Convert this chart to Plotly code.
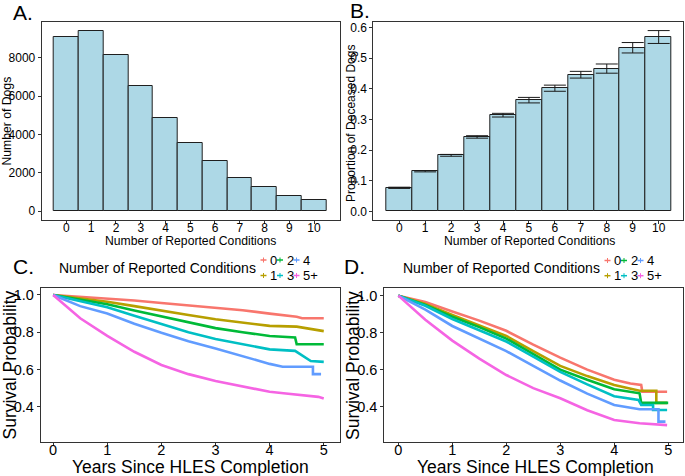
import plotly.graph_objects as go

W, H = 685, 476
FONT = "Liberation Sans, Arial, Helvetica, sans-serif"

# ---------------- Data ----------------
conditions = [0, 1, 2, 3, 4, 5, 6, 7, 8, 9, 10]
dog_counts = [9110, 9430, 8140, 6560, 4840, 3580, 2600, 1700, 1230, 810, 570]

prop_deceased = [0.077, 0.131, 0.183, 0.243, 0.314, 0.363, 0.402, 0.446, 0.466, 0.534, 0.569]
ci_upper = [0.079, 0.133, 0.186, 0.247, 0.320, 0.372, 0.412, 0.457, 0.481, 0.551, 0.590]
ci_lower = [0.075, 0.129, 0.180, 0.239, 0.308, 0.354, 0.392, 0.435, 0.451, 0.517, 0.548]

group_names = ["0", "1", "2", "3", "4", "5+"]
group_colors = ["#F8766D", "#B79F00", "#00BA38", "#00BFC4", "#619CFF", "#F564E3"]

# Panel C: survival by number of reported conditions
c_time = {
    "0":  [0, 0.5, 1, 1.5, 2, 2.5, 3, 3.5, 4, 4.5, 4.6, 5.0],
    "1":  [0, 0.5, 1, 1.5, 2, 2.5, 3, 3.5, 4, 4.5, 4.7, 5.0],
    "2":  [0, 0.5, 1, 1.5, 2, 2.5, 3, 3.5, 4, 4.47, 4.5, 5.0],
    "3":  [0, 0.5, 1, 1.5, 2, 2.5, 3, 3.5, 4, 4.47, 4.6, 4.76, 5.0],
    "4":  [0, 0.5, 1, 1.5, 2, 2.5, 3, 3.5, 4, 4.24, 4.8, 4.8, 4.95],
    "5+": [0, 0.25, 0.5, 1, 1.5, 2, 2.5, 3, 3.5, 4, 4.3, 4.6, 4.9, 5.0],
}
c_surv = {
    "0":  [1.0, 0.991, 0.982, 0.970, 0.957, 0.945, 0.933, 0.918, 0.900, 0.883, 0.875, 0.875],
    "1":  [1.0, 0.983, 0.964, 0.940, 0.915, 0.892, 0.870, 0.852, 0.834, 0.830, 0.820, 0.806],
    "2":  [1.0, 0.975, 0.950, 0.917, 0.884, 0.852, 0.822, 0.800, 0.780, 0.772, 0.735, 0.735],
    "3":  [1.0, 0.966, 0.934, 0.888, 0.844, 0.800, 0.764, 0.735, 0.708, 0.700, 0.677, 0.645, 0.641],
    "4":  [1.0, 0.940, 0.900, 0.846, 0.797, 0.752, 0.713, 0.670, 0.630, 0.615, 0.615, 0.575, 0.575],
    "5+": [1.0, 0.937, 0.875, 0.780, 0.695, 0.624, 0.575, 0.538, 0.507, 0.480, 0.471, 0.462, 0.453, 0.444],
}

# Panel D
d_time = {
    "0":  [0, 0.5, 1, 1.5, 2, 2.5, 3, 3.5, 4, 4.3, 4.5, 4.52, 4.98],
    "1":  [0, 0.5, 1, 1.5, 2, 2.5, 3, 3.5, 4, 4.47, 4.78, 4.78, 4.98],
    "2":  [0, 0.5, 1, 1.5, 2, 2.5, 3, 3.5, 4, 4.47, 4.5, 5.0],
    "3":  [0, 0.5, 1, 1.5, 2, 2.5, 3, 3.5, 4, 4.45, 4.5, 4.72, 4.72, 4.98],
    "4":  [0, 0.5, 1, 1.5, 2, 2.5, 3, 3.5, 4, 4.47, 4.82, 4.82, 4.95],
    "5+": [0, 0.5, 1, 1.5, 2, 2.5, 3, 3.5, 4, 4.47, 4.98],
}
d_surv = {
    "0":  [1.0, 0.965, 0.914, 0.865, 0.810, 0.735, 0.665, 0.600, 0.545, 0.525, 0.517, 0.481, 0.480],
    "1":  [1.0, 0.955, 0.895, 0.840, 0.782, 0.700, 0.620, 0.565, 0.517, 0.486, 0.486, 0.420, 0.420],
    "2":  [1.0, 0.950, 0.886, 0.830, 0.768, 0.685, 0.600, 0.545, 0.494, 0.472, 0.420, 0.420],
    "3":  [1.0, 0.945, 0.874, 0.815, 0.752, 0.670, 0.588, 0.520, 0.456, 0.436, 0.409, 0.409, 0.382, 0.382],
    "4":  [1.0, 0.925, 0.836, 0.770, 0.700, 0.620, 0.541, 0.470, 0.409, 0.386, 0.386, 0.319, 0.319],
    "5+": [1.0, 0.870, 0.757, 0.660, 0.571, 0.500, 0.445, 0.380, 0.328, 0.310, 0.300],
}

x_title_bar = "Number of Reported Conditions"
y_title_a = "Number of Dogs"
y_title_b = "Proportion of Deceased Dogs"
x_title_surv = "Years Since HLES Completion"
y_title_surv = "Survival Probability"
legend_title = "Number of Reported Conditions"

# ---------------- Helpers ----------------
def fx(px):
    return px / W

def fy(py):
    return 1 - py / H

fig = go.Figure()

# Panel A
fig.add_trace(go.Bar(
    x=conditions, y=dog_counts, width=1.0,
    marker=dict(color="#ADD8E6", line=dict(color="#1f1f1f", width=1)),
    xaxis="x", yaxis="y", showlegend=False,
))

# Panel B
err_plus = [u - p for u, p in zip(ci_upper, prop_deceased)]
err_minus = [p - l for p, l in zip(prop_deceased, ci_lower)]
fig.add_trace(go.Bar(
    x=conditions, y=prop_deceased, width=1.0,
    marker=dict(color="#ADD8E6", line=dict(color="#1f1f1f", width=1)),
    error_y=dict(type="data", symmetric=False, array=err_plus, arrayminus=err_minus,
                 color="#1a1a1a", thickness=1, width=11),
    xaxis="x2", yaxis="y2", showlegend=False,
))

# Panels C and D
for name, col in zip(group_names, group_colors):
    fig.add_trace(go.Scatter(
        x=c_time[name], y=c_surv[name], mode="lines",
        line=dict(color=col, width=2.6), xaxis="x3", yaxis="y3", showlegend=False,
        name=name,
    ))
for name, col in zip(group_names, group_colors):
    fig.add_trace(go.Scatter(
        x=d_time[name], y=d_surv[name], mode="lines",
        line=dict(color=col, width=2.6), xaxis="x4", yaxis="y4", showlegend=False,
        name=name,
    ))

axis_common = dict(
    showline=True, mirror=True, linecolor="#333333", linewidth=1,
    showgrid=False, zeroline=False, ticks="outside", ticklen=3,
    tickcolor="#333333", tickwidth=1,
)

small_tick = dict(family=FONT, size=12, color="black")
small_title = dict(family=FONT, size=12.2, color="black")
big_tick = dict(family=FONT, size=14.5, color="black")
big_title = dict(family=FONT, size=17.5, color="black")

layout = dict(
    width=W, height=H,
    margin=dict(l=0, r=0, t=0, b=0),
    paper_bgcolor="white", plot_bgcolor="white",
    font=dict(family=FONT, color="black"),
    bargap=0,
    xaxis=dict(domain=[fx(41.7), fx(340)], anchor="y", range=[-1.0, 11.05],
               tickvals=conditions, tickfont=small_tick, ticklabelstandoff=-6, **axis_common),
    yaxis=dict(domain=[fy(220), fy(22)], anchor="x", range=[-470, 9880],
               tickvals=[0, 2000, 4000, 6000, 8000], tickfont=small_tick, **axis_common),
    xaxis2=dict(domain=[fx(373.3), fx(683.3)], anchor="y2", range=[-1.0, 10.95],
                tickvals=conditions, tickfont=small_tick, ticklabelstandoff=-6, **axis_common),
    yaxis2=dict(domain=[fy(220), fy(22)], anchor="x2", range=[-0.028, 0.618],
                tickvals=[0, 0.1, 0.2, 0.3, 0.4, 0.5, 0.6], tickformat=".1f",
                tickfont=small_tick, **axis_common),
    xaxis3=dict(domain=[fx(40.7), fx(340)], anchor="y3", range=[-0.23, 5.3],
                tickvals=[0, 1, 2, 3, 4, 5], tickfont=big_tick, ticklabelstandoff=-9,
                **axis_common),
    yaxis3=dict(domain=[fy(442.3), fy(287.7)], anchor="x3", range=[0.209, 1.039],
                tickvals=[0.4, 0.6, 0.8, 1.0], tickformat=".1f", tickfont=big_tick,
                **axis_common),
    xaxis4=dict(domain=[fx(384.3), fx(683.3)], anchor="y4", range=[-0.26, 5.28],
                tickvals=[0, 1, 2, 3, 4, 5], tickfont=big_tick, ticklabelstandoff=-9,
                **axis_common),
    yaxis4=dict(domain=[fy(442.3), fy(287.7)], anchor="x4", range=[0.207, 1.043],
                tickvals=[0.4, 0.6, 0.8, 1.0], tickformat=".1f", tickfont=big_tick,
                **axis_common),
)

annotations = []
shapes = []

def text(t, px, py, font, xanchor="center", angle=0):
    annotations.append(dict(text=t, x=fx(px), y=fy(py), xref="paper", yref="paper",
                            xanchor=xanchor, yanchor="middle", showarrow=False,
                            textangle=angle, font=font))

# Axis titles
text(x_title_bar, 190.5, 240.5, small_title)
text(x_title_bar, 529, 240.5, small_title)
text(y_title_a, 7, 121.5, small_title, angle=-90)
text(y_title_b, 351, 124, dict(family=FONT, size=12, color="black"), angle=-90)
text(x_title_surv, 190, 466.5, big_title)
text(x_title_surv, 535, 466.5, big_title)
text(y_title_surv, 9.5, 365, big_title, angle=-90)
text(y_title_surv, 353, 365, big_title, angle=-90)

# Panel labels
label_font = dict(family=FONT, size=21, color="black")
for label, px, py in [("A.", 11, 12), ("B.", 348, 10), ("C.", 11, 266), ("D.", 342, 266)]:
    text(label, px, py, label_font, xanchor="left")

# Manual legends (2 rows x 3 cols, column-major order)
def add_legend(title_cx, sym_x0, row_y):
    text(legend_title, title_cx, 267.5, dict(family=FONT, size=14, color="black"))
    pitch = 16.5
    for i, (name, col) in enumerate(zip(group_names, group_colors)):
        colidx, rowidx = i // 2, i % 2
        cx = sym_x0 + colidx * pitch
        cy = row_y[rowidx]
        shapes.append(dict(type="line", xref="paper", yref="paper",
                           x0=fx(cx - 3), x1=fx(cx + 3), y0=fy(cy), y1=fy(cy),
                           line=dict(color=col, width=1.5)))
        shapes.append(dict(type="line", xref="paper", yref="paper",
                           x0=fx(cx), x1=fx(cx), y0=fy(cy - 2.5), y1=fy(cy + 2.5),
                           line=dict(color=col, width=1)))
        text(name, cx + 4.5, cy, dict(family=FONT, size=13, color="black"), xanchor="left")

add_legend(157, 263.5, [260, 275.5])
add_legend(501.7, 607.5, [260.5, 275.7])

layout["annotations"] = annotations
layout["shapes"] = shapes
fig.update_layout(**layout)

fig.write_html("out.html")
